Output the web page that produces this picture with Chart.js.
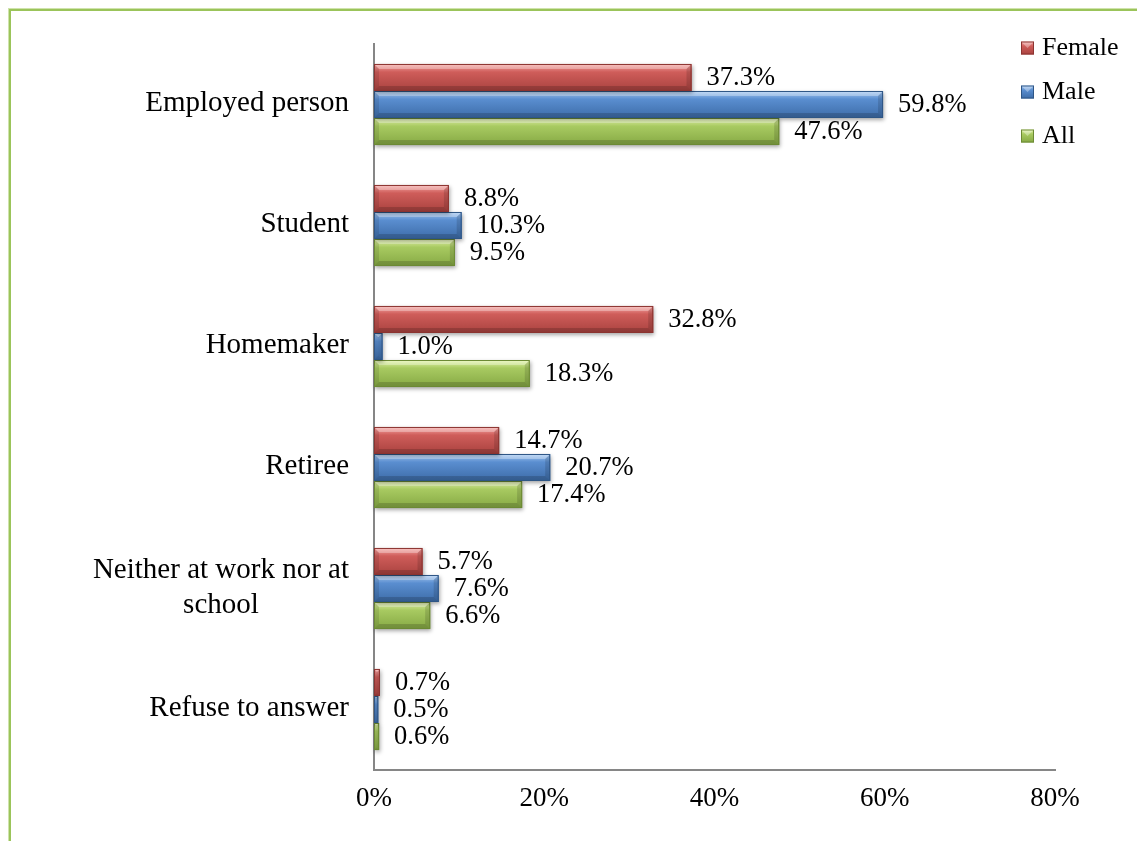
<!DOCTYPE html>
<html>
<head>
<meta charset="utf-8">
<script src="https://cdn.jsdelivr.net/npm/chart.js@4/dist/chart.umd.min.js"></script>
<style>
  html, body { margin: 0; padding: 0; background: #ffffff; }
  #wrap { position: relative; width: 1137px; height: 841px; overflow: hidden; }
  #frame {
    position: absolute; left: 9px; top: 9px; width: 1200px; height: 900px;
    border-left: 2px solid #9bc45a; border-top: 2px solid #9bc45a;
    box-shadow: -1px -1px 0 #cfe3ab;
  }
  #chart { position: absolute; left: 0; top: 0; }
</style>
</head>
<body>
<div id="wrap">
  <div id="frame"></div>
  <canvas id="chart" width="1137" height="841"></canvas>
</div>
<script>
// Occupation by sex (share of respondents, %)
const categories = [
  'Employed person',
  'Student',
  'Homemaker',
  'Retiree',
  ['Neither at work nor at', 'school'],
  'Refuse to answer'
];
const seriesNames = ['Female', 'Male', 'All'];
const femaleValues = [37.3, 8.8, 32.8, 14.7, 5.7, 0.7];
const maleValues   = [59.8, 10.3, 1.0, 20.7, 7.6, 0.5];
const allValues    = [47.6, 9.5, 18.3, 17.4, 6.6, 0.6];
const xTickValues  = [0, 20, 40, 60, 80];

// Shaded bar look: light top edge, face colour, dark bottom edge, outline
const palette = [
  { light: '#f6a9a7', mid: '#cf5d5a', dark: '#a9423f', line: '#8c3431' },
  { light: '#a9cbf3', mid: '#5a8ed0', dark: '#3d6ca8', line: '#2f5686' },
  { light: '#e6f7ad', mid: '#a8ca61', dark: '#86a944', line: '#6c8a34' }
];

const SERIF = '"Liberation Serif", "Times New Roman", serif';

const seriesValues = [femaleValues, maleValues, allValues];

const bevelBars = {
  id: 'bevelBars',
  afterDatasetDraw(chart, args) {
    const ctx = chart.ctx;
    const c = palette[args.index];
    args.meta.data.forEach(el => {
      const p = el.getProps(['x', 'y', 'base', 'height'], true);
      const L = Math.min(p.x, p.base), R = Math.max(p.x, p.base);
      const T = p.y - p.height / 2, B = p.y + p.height / 2;
      const w = R - L, h = B - T;
      const b = Math.min(5, w / 2, h / 2);
      ctx.save();
      // face with soft drop shadow
      ctx.shadowColor = 'rgba(0,0,0,0.35)';
      ctx.shadowBlur = 4;
      ctx.shadowOffsetX = 1;
      ctx.shadowOffsetY = 2;
      const g = ctx.createLinearGradient(0, T, 0, B);
      g.addColorStop(0, c.light);
      g.addColorStop(0.3, c.mid);
      g.addColorStop(1, c.dark);
      ctx.fillStyle = g;
      ctx.fillRect(L, T, w, h);
      ctx.shadowColor = 'transparent';
      ctx.shadowBlur = 0;
      ctx.shadowOffsetX = 0;
      ctx.shadowOffsetY = 0;
      // top facet
      ctx.fillStyle = 'rgba(255,255,255,0.30)';
      ctx.beginPath();
      ctx.moveTo(L, T); ctx.lineTo(R, T); ctx.lineTo(R - b, T + b); ctx.lineTo(L + b, T + b);
      ctx.closePath(); ctx.fill();
      // bottom facet
      ctx.fillStyle = 'rgba(0,0,0,0.16)';
      ctx.beginPath();
      ctx.moveTo(L, B); ctx.lineTo(R, B); ctx.lineTo(R - b, B - b); ctx.lineTo(L + b, B - b);
      ctx.closePath(); ctx.fill();
      // right facet
      ctx.fillStyle = 'rgba(0,0,0,0.13)';
      ctx.beginPath();
      ctx.moveTo(R, T); ctx.lineTo(R, B); ctx.lineTo(R - b, B - b); ctx.lineTo(R - b, T + b);
      ctx.closePath(); ctx.fill();
      // left facet
      ctx.fillStyle = 'rgba(0,0,0,0.10)';
      ctx.beginPath();
      ctx.moveTo(L, T); ctx.lineTo(L + b, T + b); ctx.lineTo(L + b, B - b); ctx.lineTo(L, B);
      ctx.closePath(); ctx.fill();
      // outline
      ctx.strokeStyle = c.line;
      ctx.lineWidth = 1;
      ctx.strokeRect(L + 0.5, T + 0.5, Math.max(w - 1, 0), Math.max(h - 1, 0));
      ctx.restore();
    });
  }
};

const valueLabels = {
  id: 'valueLabels',
  afterDatasetsDraw(chart) {
    const ctx = chart.ctx;
    ctx.save();
    ctx.font = '26.5px ' + SERIF;
    ctx.fillStyle = '#000000';
    ctx.textAlign = 'left';
    ctx.textBaseline = 'middle';
    chart.data.datasets.forEach((ds, di) => {
      chart.getDatasetMeta(di).data.forEach((el, i) => {
        const p = el.getProps(['x', 'y'], true);
        ctx.fillText(ds.data[i].toFixed(1) + '%', p.x + 15, p.y + 1);
      });
    });
    ctx.restore();
  }
};

// Category names: right-aligned block, wrapped lines centred within it
const categoryLabels = {
  id: 'categoryLabels',
  afterDraw(chart) {
    const ctx = chart.ctx;
    const yScale = chart.scales.y;
    const rightX = chart.chartArea.left - 25;
    const lineH = 35;
    ctx.save();
    ctx.font = '29px ' + SERIF;
    ctx.fillStyle = '#000000';
    ctx.textAlign = 'center';
    ctx.textBaseline = 'middle';
    categories.forEach((lab, i) => {
      const lines = Array.isArray(lab) ? lab : [lab];
      const maxW = Math.max(...lines.map(s => ctx.measureText(s).width));
      const cx = rightX - maxW / 2;
      const cy = yScale.getPixelForValue(i) - 1;
      lines.forEach((s, k) => {
        ctx.fillText(s, cx, cy + (k - (lines.length - 1) / 2) * lineH);
      });
    });
    ctx.restore();
  }
};

// Legend stacked at the upper right
const sideLegend = {
  id: 'sideLegend',
  afterDraw(chart) {
    const ctx = chart.ctx;
    const x0 = 1021, y0 = 48, step = 44, s = 13;
    ctx.save();
    ctx.font = '26px ' + SERIF;
    ctx.textAlign = 'left';
    ctx.textBaseline = 'middle';
    seriesNames.forEach((name, i) => {
      const c = palette[i];
      const cy = y0 + i * step;
      const T = cy - s / 2;
      const g = ctx.createLinearGradient(0, T, 0, T + s);
      g.addColorStop(0, c.light);
      g.addColorStop(0.35, c.mid);
      g.addColorStop(1, c.dark);
      ctx.fillStyle = g;
      ctx.fillRect(x0, T, s, s);
      ctx.fillStyle = 'rgba(255,255,255,0.35)';
      ctx.beginPath();
      ctx.moveTo(x0, T); ctx.lineTo(x0 + s, T); ctx.lineTo(x0 + s / 2, T + s / 2);
      ctx.closePath(); ctx.fill();
      ctx.strokeStyle = c.line;
      ctx.lineWidth = 1;
      ctx.strokeRect(x0 + 0.5, T + 0.5, s - 1, s - 1);
      ctx.fillStyle = '#000000';
      ctx.fillText(name, x0 + 21, cy);
    });
    ctx.restore();
  }
};

new Chart(document.getElementById('chart'), {
  type: 'bar',
  data: {
    labels: categories,
    datasets: seriesNames.map((name, i) => ({
      label: name,
      data: seriesValues[i],
      backgroundColor: palette[i].mid,
      borderWidth: 0,
      categoryPercentage: 0.67,
      barPercentage: 1.0
    }))
  },
  options: {
    indexAxis: 'y',
    responsive: false,
    animation: false,
    layout: { padding: { top: 44, right: 82, left: 0, bottom: 0 } },
    plugins: {
      legend: { display: false },
      tooltip: { enabled: false }
    },
    scales: {
      x: {
        min: 0,
        max: 80,
        afterBuildTicks(scale) { scale.ticks = xTickValues.map(v => ({ value: v })); },
        afterFit(scale) { scale.height = 71; },
        grid: { display: false, drawTicks: false },
        border: { display: true, color: '#868686', width: 2 },
        ticks: {
          padding: 13,
          color: '#000000',
          font: { family: SERIF, size: 27 },
          callback: v => v + '%'
        }
      },
      y: {
        afterFit(scale) { scale.width = 374; },
        grid: { display: false, drawTicks: false },
        border: { display: true, color: '#868686', width: 2 },
        ticks: { display: false }
      }
    }
  },
  plugins: [bevelBars, valueLabels, categoryLabels, sideLegend]
});
</script>
</body>
</html>
